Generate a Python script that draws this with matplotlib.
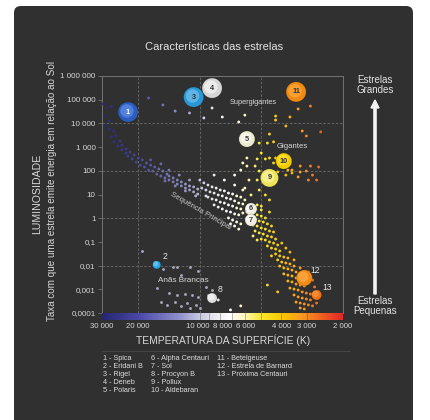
import numpy as np
import matplotlib
matplotlib.use('Agg')
from matplotlib import pyplot as plt
from matplotlib import transforms
from matplotlib.colors import LinearSegmentedColormap
from matplotlib.patches import FancyBboxPatch, FancyArrow
from matplotlib.ticker import NullLocator

# --- data: (log10 T [K], log10 L [L_sol]) ---
ms_blue = [
    (4.47, 4.82), (4.45, 4.65), (4.43, 4.73), (4.46, 4.31), (4.44, 4.10), (4.46, 3.89),
    (4.44, 3.76), (4.42, 3.68), (4.43, 3.43), (4.41, 3.47), (4.42, 3.22), (4.39, 3.26),
    (4.40, 3.05), (4.38, 3.09), (4.38, 2.88), (4.36, 2.92), (4.36, 2.75), (4.34, 2.79),
    (4.35, 2.62), (4.32, 2.67), (4.33, 2.50), (4.30, 2.54), (4.31, 2.37), (4.28, 2.46),
    (4.29, 2.24), (4.26, 2.33), (4.27, 2.16), (4.24, 2.24), (4.25, 2.03), (4.22, 2.16),
    (4.23, 1.99), (4.20, 2.08), (4.21, 1.86), (4.18, 1.99), (4.19, 1.78), (4.16, 1.86),
    (4.17, 1.70), (4.15, 1.78), (4.15, 1.61), (4.13, 1.70), (4.13, 1.53), (4.11, 1.61),
    (4.11, 1.44), (4.09, 1.53), (4.09, 1.36), (4.07, 1.44), (4.07, 1.27), (4.05, 1.36),
    (4.05, 1.19), (4.03, 1.32), (4.03, 1.11), (4.01, 1.23), (4.01, 1.02), (4.24, 2.46),
    (4.19, 2.29), (4.15, 2.03), (4.10, 1.82), (4.05, 1.61), (4.17, 1.57), (4.12, 1.36),
    (4.07, 1.15), (4.02, 0.94),
]
ms_white = [
    (4.00, 1.61), (3.98, 1.49), (3.96, 1.40), (3.94, 1.32), (3.92, 1.27), (3.90, 1.19),
    (3.88, 1.15), (3.86, 1.06), (3.84, 1.02), (3.82, 0.94), (3.80, 0.89), (3.99, 1.27),
    (3.97, 1.19), (3.95, 1.11), (3.93, 1.06), (3.91, 0.98), (3.89, 0.94), (3.87, 0.85),
    (3.85, 0.81), (3.83, 0.73), (3.81, 0.64), (3.79, 0.60), (3.97, 0.94), (3.96, 0.89),
    (3.94, 0.81), (3.92, 0.77), (3.90, 0.68), (3.88, 0.64), (3.86, 0.56), (3.84, 0.51),
    (3.82, 0.43), (3.80, 0.39), (3.93, 0.56), (3.91, 0.47), (3.89, 0.39), (3.87, 0.30),
    (3.85, 0.26), (3.83, 0.18), (3.81, 0.14), (3.79, 0.22), (3.86, 0.01), (3.84, -0.08),
    (3.82, -0.16), (3.80, -0.24), (3.83, -0.33), (3.81, -0.46), (3.85, -0.24),
    (3.93, 1.82), (3.88, 1.61), (3.83, 1.40), (3.79, 1.19), (3.78, 0.77),
]
ms_yellow = [
    (3.77, 0.26), (3.76, 0.18), (3.74, 0.22), (3.72, 0.14), (3.70, 0.09), (3.68, 0.01),
    (3.77, 0.01), (3.75, -0.08), (3.73, -0.03), (3.71, -0.12), (3.69, -0.16), (3.67, -0.24),
    (3.65, -0.33), (3.74, -0.29), (3.72, -0.33), (3.70, -0.41), (3.68, -0.46), (3.66, -0.54),
    (3.64, -0.58), (3.73, -0.54), (3.71, -0.62), (3.69, -0.67), (3.67, -0.75), (3.65, -0.79),
    (3.63, -0.88), (3.70, -0.88), (3.68, -0.92), (3.66, -1.00), (3.64, -1.05), (3.62, -1.13),
    (3.67, -1.17), (3.65, -1.26), (3.63, -1.30), (3.61, -1.38), (3.70, 0.51), (3.66, 0.26),
    (3.72, -0.92), (3.74, -0.75), (3.72, 0.56), (3.70, 0.35),
]
ms_orange = [
    (3.63, -1.51), (3.61, -1.59), (3.59, -1.64), (3.57, -1.68), (3.62, -1.76), (3.60, -1.85),
    (3.58, -1.89), (3.56, -1.93), (3.54, -2.02), (3.61, -2.02), (3.59, -2.10), (3.57, -2.14),
    (3.55, -2.19), (3.53, -2.27), (3.59, -2.35), (3.57, -2.40), (3.55, -2.44), (3.53, -2.52),
    (3.51, -2.57), (3.57, -2.65), (3.55, -2.69), (3.53, -2.78), (3.51, -2.82), (3.49, -2.86),
    (3.56, -2.95), (3.54, -2.99), (3.52, -3.03), (3.50, -3.11), (3.48, -3.16), (3.46, -3.20),
    (3.54, -3.24), (3.52, -3.32), (3.50, -3.37), (3.48, -3.41), (3.46, -3.45), (3.53, -3.54),
    (3.51, -3.58), (3.49, -3.62), (3.47, -3.66), (3.51, -3.79), (3.49, -3.83), (3.60, -1.05),
    (3.58, -1.26), (3.56, -1.43), (3.54, -1.76), (3.51, -2.10), (3.50, -2.40), (3.47, -2.27),
    (3.45, -2.61), (3.44, -2.90), (3.42, -3.11), (3.44, -3.28), (3.43, -3.58), (3.45, -3.70),
]
giants = [
    (3.66, 3.55), (3.71, 3.17), (3.67, 3.17), (3.64, 3.22), (3.70, 2.75), (3.68, 2.50),
    (3.72, 2.50), (3.77, 2.54), (3.79, 2.33), (3.77, 2.20), (3.73, 2.20), (3.66, 2.54),
    (3.64, 2.33), (3.63, 2.54), (3.80, 2.03), (3.71, 1.99), (3.68, 1.74), (3.72, 1.61),
    (3.71, 1.19), (3.65, 1.40), (3.62, 1.95), (3.61, 2.20), (3.61, 2.58), (3.76, 1.61),
    (3.83, 1.82), (3.78, 1.27), (3.75, 0.98), (3.68, 0.98), (3.66, 0.77),
    (3.57, 2.03), (3.55, 2.03), (3.58, 1.82), (3.55, 1.91), (3.51, 2.20), (3.46, 2.20),
    (3.42, 2.16), (3.51, 1.95), (3.48, 1.99), (3.45, 1.82), (3.52, 1.74), (3.47, 1.61),
    (3.43, 1.61), (3.59, 2.46), (3.56, 2.29),
]
supergiants = [
    (4.25, 5.07), (4.18, 4.78), (4.12, 4.52), (4.05, 4.44), (3.98, 4.23), (3.94, 4.65),
    (3.89, 4.27), (3.78, 4.35), (3.81, 4.06), (3.63, 4.31), (3.63, 4.14), (3.56, 4.27),
    (3.58, 3.89), (3.52, 4.61), (3.46, 4.73), (3.50, 3.68), (3.48, 3.47), (3.41, 3.64),
]
white_dwarfs = [
    (4.28, -1.38), (4.18, -2.14), (4.13, -2.06), (4.11, -2.06), (4.05, -2.06), (4.01, -2.23),
    (4.09, -2.40), (4.21, -2.95), (4.15, -3.16), (4.11, -3.24), (4.07, -3.20), (4.04, -3.24),
    (4.01, -3.32), (3.97, -2.90), (3.94, -3.03), (3.96, -3.24), (4.19, -3.54), (4.16, -3.66),
    (4.12, -3.54), (4.09, -3.70), (4.06, -3.58), (4.02, -3.66), (4.00, -3.79), (4.05, -3.79),
]
stragglers = [
    (3.91, -3.45), (3.85, -3.87), (3.80, -3.70), (3.67, -2.82), (3.62, -3.11), (3.65, -1.59),
]

star_ids = ['1', '2', '3', '4', '5', '6', '7', '8', '9', '10', '11', '12', '13']
star_names = ['Spica', 'Eridani B', 'Rigel', 'Deneb', 'Polaris', 'Alpha Centauri', 'Sol',
              'Procyon B', 'Pollux', 'Aldebaran', 'Betelgeuse', 'Estrela de Barnard',
              'Próxima Centauri']
star_logT = [4.35, 4.21, 4.03, 3.94, 3.77, 3.75, 3.75, 3.94, 3.66, 3.59, 3.53, 3.49, 3.43]
star_logL = [4.48, -1.97, 5.11, 5.49, 3.34, 0.39, -0.08, -3.37, 1.70, 2.41, 5.33, -2.52, -3.24]

lum_ticks = [1e6, 1e5, 1e4, 1e3, 1e2, 1e1, 1, 0.1, 0.01, 0.001, 0.0001]
lum_labels = ['1 000 000', '100 000', '10 000', '1 000', '100', '10', '1',
              '0,1', '0,01', '0,001', '0,0001']
temp_ticks = [30000, 20000, 10000, 8000, 6000, 4000, 3000, 2000]
temp_labels = ['30 000', '20 000', '10 000', '8 000', '6 000', '4 000', '3 000', '2 000']

# --- style ---
W, H = 431, 420
BG = '#303030'
GRID = '#6c6c6c'
TXT = '#d8d8d8'

star_size = [10, 4, 10, 10, 8, 6, 6, 5, 9, 8, 10, 8, 5]
star_base = ['#2d5cc0', '#2aa6e6', '#2b98d6', '#d6d6d6', '#ecebcf', '#efeee0', '#efeee0',
             '#dedede', '#ece45a', '#f3cd00', '#ef8a12', '#f38a14', '#ee7214']
star_hi = ['#6f9ff2', '#86d4ff', '#84ccf2', '#ffffff', '#ffffff', '#ffffff', '#ffffff',
           '#ffffff', '#fff8b8', '#ffe84a', '#ffb24a', '#ffb456', '#ffa04a']
star_inside = [True, False, True, True, True, True, True, False, True, True, True, False, False]

cmap = LinearSegmentedColormap.from_list('temp', [
    (0.00, '#262670'), (0.15, '#4a48a8'), (0.32, '#9090cc'), (0.406, '#c8c8e0'),
    (0.466, '#e8e8ee'), (0.53, '#ffffff'), (0.59, '#fff6c0'), (0.66, '#f8e830'),
    (0.745, '#f8c800'), (0.83, '#f89a20'), (0.915, '#f06020'), (1.00, '#e02828'),
])

LT_MAX, LT_MIN = np.log10(30000), np.log10(2000)


def t_pos(logT):
    return (LT_MAX - np.asarray(logT)) / (LT_MAX - LT_MIN)


def fx(x):
    return x / W


def fy(y):
    return 1 - y / H


plt.rcParams['font.family'] = ['Liberation Sans', 'DejaVu Sans']

fig = plt.figure(figsize=(W / 100, H / 100), dpi=100)
fig.patch.set_facecolor('white')
card = FancyBboxPatch((fx(14), fy(445)), fx(413) - fx(14), fy(6) - fy(445),
                      boxstyle='round,pad=0,rounding_size=0.016',
                      transform=fig.transFigure, facecolor=BG, edgecolor='none', zorder=-5)
fig.patches.append(card)

ax = fig.add_axes([fx(102), fy(313), fx(343) - fx(102), fy(76) - fy(313)])
ax.set_facecolor('none')
ax.set_xscale('log')
ax.set_yscale('log')
ax.set_xlim(30000, 2000)
ax.set_ylim(1e-4, 1e6)

for t in [20000, 10000, 5000]:
    ax.axvline(t, color=GRID, lw=0.6, ls=(0, (3, 2)), zorder=1)
for lum in [1e4, 1e2, 1, 1e-2]:
    ax.axhline(lum, color=GRID, lw=0.6, ls=(0, (3, 2)), zorder=1)

for side in ['top', 'left', 'right']:
    ax.spines[side].set_color('#747474')
    ax.spines[side].set_linewidth(0.7)
ax.spines['bottom'].set_visible(False)

ax.set_yticks(lum_ticks)
ax.set_yticklabels(lum_labels)
ax.yaxis.set_minor_locator(NullLocator())
ax.xaxis.set_minor_locator(NullLocator())
ax.set_xticks([])
ax.tick_params(axis='y', labelsize=5.8, labelcolor=TXT, color='#747474',
               length=3, width=0.6, pad=1.5)

# cloud of stars
groups = [(ms_blue, 0.9), (ms_white, 1.0), (ms_yellow, 1.0), (ms_orange, 1.0),
          (giants, 1.0), (supergiants, 1.0), (stragglers, 1.0)]
for pts, alpha in groups:
    pts = np.array(pts)
    ax.scatter(10 ** pts[:, 0], 10 ** pts[:, 1], s=4.2, c=cmap(t_pos(pts[:, 0])),
               linewidths=0, alpha=alpha, zorder=3)
wd = np.array(white_dwarfs)
ax.scatter(10 ** wd[:, 0], 10 ** wd[:, 1], s=4.2, c='#a9a9bd', linewidths=0, zorder=3)

# named stars
T = 10 ** np.array(star_logT)
L = 10 ** np.array(star_logL)
sizes = 2.07 * np.array(star_size) ** 2
ax.scatter(T, L, s=sizes, c=star_base, edgecolors='#00000030', linewidths=0.4, zorder=5)
hi_tr = transforms.offset_copy(ax.transData, fig=fig, x=-0.8, y=0.8, units='points')
ax.scatter(T, L, s=sizes * 0.45, c=star_hi, linewidths=0, alpha=0.55, zorder=6,
           transform=hi_tr)
for i, sid in enumerate(star_ids):
    if star_inside[i]:
        col = 'white' if sid == '1' else '#333333'
        ax.text(T[i], L[i], sid, ha='center', va='center', fontsize=5.3,
                fontweight='bold', color=col, zorder=7)
    else:
        off = (4, 3) if sid in ('2', '8') else (4.5, 2)
        ax.annotate(sid, (T[i], L[i]), xytext=off, textcoords='offset points',
                    ha='left', va='bottom', fontsize=6.2, color='#e6e6e6', zorder=7)

# colour bar under the plot
cax = fig.add_axes([fx(102), fy(320), fx(343) - fx(102), fy(313) - fy(320)])
cax.imshow(np.linspace(0, 1, 600)[None, :], aspect='auto', cmap=cmap,
           extent=[0, 1, 0, 1])
for t in [10000, 9000, 8000, 7000, 6000, 5000, 4000, 3000]:
    cax.axvline(t_pos(np.log10(t)), color='#3a3a3a', lw=0.5, alpha=0.5)
cax.set_xlim(0, 1)
cax.set_ylim(0, 1)
for sp in cax.spines.values():
    sp.set_visible(False)
cax.set_yticks([])
cax.set_xticks(t_pos(np.log10(temp_ticks)))
cax.set_xticklabels(temp_labels)
cax.tick_params(axis='x', length=0, labelsize=5.6, labelcolor=TXT, pad=2.5)
nudge = {'10 000': -2.5, '8 000': 2.5}
for lab in cax.get_xticklabels():
    dx = nudge.get(lab.get_text(), 0)
    if dx:
        lab.set_transform(lab.get_transform()
                          + transforms.ScaledTranslation(dx / 100, 0, fig.dpi_scale_trans))

# region labels
fig.text(fx(253), fy(103), 'Supergigantes', fontsize=5.3, color=TXT, ha='center', va='center')
fig.text(fx(292), fy(147), 'Gigantes', fontsize=5.6, color=TXT, ha='center', va='center')
fig.text(fx(201), fy(211), 'Sequência Principal', fontsize=5.6, color='#c8c8c8',
         ha='center', va='center', rotation=-30, rotation_mode='anchor')
fig.text(fx(183), fy(280), 'Anãs Brancas', fontsize=5.9, color=TXT, ha='center', va='center')

# titles and axis labels
fig.text(fx(214), fy(47), 'Características das estrelas', fontsize=8, color='#e4e4e4',
         ha='center', va='center')
fig.text(fx(37), fy(194), 'LUMINOSIDADE', fontsize=7.6, color=TXT, rotation=90,
         ha='center', va='center')
fig.text(fx(52), fy(191), 'Taxa com que uma estrela emite energia em relação ao Sol',
         fontsize=7.1, color=TXT, rotation=90, ha='center', va='center')
fig.text(fx(223), fy(340), 'TEMPERATURA DA SUPERFÍCIE (K)', fontsize=7.4, color=TXT,
         ha='center', va='center')

# right hand side arrow
fig.text(fx(375), fy(85), 'Estrelas\nGrandes', fontsize=7, color='#e4e4e4',
         ha='center', va='center', linespacing=1.0)
fig.text(fx(375), fy(306), 'Estrelas\nPequenas', fontsize=7, color='#e4e4e4',
         ha='center', va='center', linespacing=1.0)
fig.patches.append(FancyArrow(fx(375), fy(294), 0, fy(100) - fy(294), width=2.2 / W,
                              head_width=8 / W, head_length=8 / H, length_includes_head=True,
                              transform=fig.transFigure, color='#f2f2f2', zorder=3))

# legend of named stars
line = plt.Line2D([fx(102), fx(350)], [fy(351), fy(351)], transform=fig.transFigure,
                  color='#4a4a4a', lw=0.6)
fig.lines.append(line)
col_x = [103, 151, 217]
for i, (sid, name) in enumerate(zip(star_ids, star_names)):
    col = 0 if i < 5 else (1 if i < 10 else 2)
    row = i - [0, 5, 10][col]
    fig.text(fx(col_x[col]), fy(359 + 8 * row), f'{sid} - {name}', fontsize=5.2,
             color='#dcdcdc', ha='left', va='center')

fig.savefig('out.png', dpi=100, facecolor='white')
